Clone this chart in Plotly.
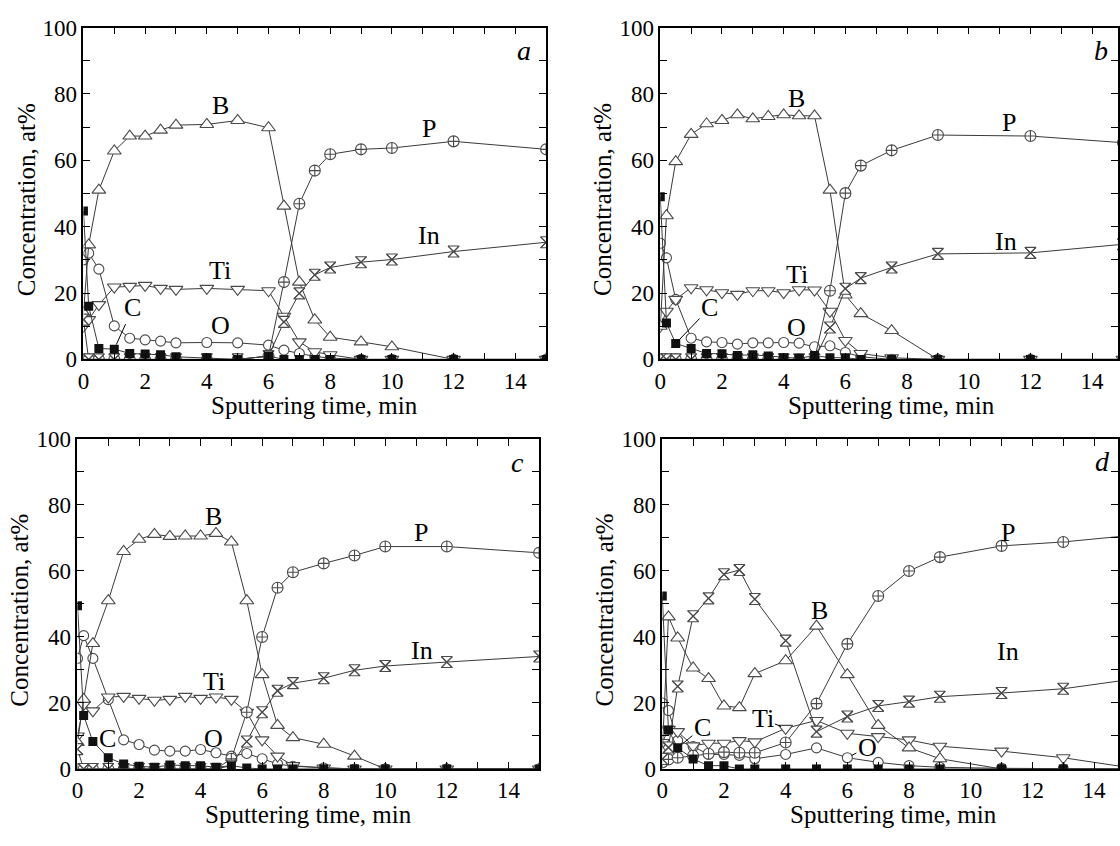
import plotly.graph_objects as go

# ---------------- panel a ----------------
t_a = [0, 0.17, 0.5, 1, 1.5, 2, 2.5, 3, 4, 5, 6, 6.5, 7, 7.5, 8, 9, 10, 12, 15]
B_a = [14, 34.5, 51, 62.8, 67.3, 67.3, 69.1, 70.6, 70.8, 72, 69.8, 46.2, 23.3, 11.9, 6.7, 5.3, 3.8, 0, 0]
Ti_a = [10, 12, 16.5, 21.8, 22, 22.3, 21.4, 21.1, 21.4, 21.1, 20.7, 13, 5.3, 2.3, 1.4, 0, 0, 0, 0]
O_a = [30, 32, 27.2, 10.1, 6.4, 5.9, 5.5, 5.0, 5.1, 5.0, 4.3, 2.8, 1.8, 0.9, 0.4, 0, 0, 0, 0]
C_a = [44.7, 16, 3.3, 3.1, 1.8, 1.6, 1.4, 0.8, 0.5, 0, 1.0, 0, 0, 0, 0, 0, 0, 0, 0]
P_a = [0, 0, 0, 0, 0, 0, 0, 0, 0, 0, 1, 23.3, 46.9, 56.9, 61.8, 63.3, 63.7, 65.7, 63.3]
In_a = [12, 0, 0, 0, 0, 0, 0, 0, 0, 0, 1, 11.3, 19.9, 25.5, 27.7, 29.3, 30.1, 32.5, 35.3]

# ---------------- panel b ----------------
t_b = [0, 0.2, 0.5, 1, 1.5, 2, 2.5, 3, 3.5, 4, 4.5, 5, 5.5, 6, 6.5, 7.5, 9, 12, 15]
B_b = [10, 43.3, 59.6, 67.8, 71, 72, 73.7, 72.5, 73.2, 73.7, 73.4, 73.4, 51, 19.4, 13.8, 8.7, 0, 0, 0]
Ti_b = [10, 14.5, 18.1, 21.6, 21, 20.1, 19.6, 20.7, 20.7, 20.1, 21, 20.9, 14.5, 5.7, 1.8, 0.5, 0, 0, 0]
O_b = [35, 30.6, 18.1, 6.4, 5.3, 5.1, 4.6, 5.0, 5.0, 5.1, 4.9, 3.8, 4.1, 2.1, 0.8, 0, 0, 0, 0]
C_b = [49, 11, 4.8, 3.3, 1.8, 1.7, 1.2, 1.4, 1.0, 0.5, 0.3, 1.2, 0.5, 0.5, 0, 0, 0, 0, 0]
P_b = [0, 0, 0, 0, 0, 0, 0, 0, 0, 0, 0, 0, 20.7, 50.1, 58.4, 63, 67.6, 67.3, 65.3]
In_b = [0, 0, 0, 0, 0, 0, 0, 0, 0, 0, 0, 0, 9.6, 21.3, 24.5, 27.7, 31.8, 32.1, 34.7]

# ---------------- panel c ----------------
t_c = [0, 0.2, 0.5, 1, 1.5, 2, 2.5, 3, 3.5, 4, 4.5, 5, 5.5, 6, 6.5, 7, 8, 9, 10, 12, 15]
B_c = [8, 21.1, 38, 51, 65.9, 69.6, 71.1, 70.5, 70.6, 70.6, 71.4, 68.8, 51, 28.6, 13.2, 9.5, 7.5, 3.9, 0, 0, 0]
Ti_c = [10, 19.5, 17.6, 21.8, 22, 21.4, 20.8, 21.1, 22, 21.4, 21.8, 21.1, 17.2, 8.8, 3.9, 1, 0.3, 0, 0, 0, 0]
O_c = [33.5, 40.4, 33.5, 21, 8.8, 7.4, 5.7, 5.4, 5.4, 5.9, 4.9, 3.9, 4.7, 3.1, 1.5, 0.8, 0.3, 0, 0, 0, 0]
C_c = [49.5, 16.2, 8.3, 3.4, 1.5, 0.8, 0.5, 1.2, 1, 1, 0.5, 1, 0.3, 0, 0, 0, 0, 0, 0, 0, 0]
P_c = [0, 0, 0, 0, 0, 0, 0, 0, 0, 0, 0, 3.1, 17.2, 40, 54.9, 59.6, 62.3, 64.7, 67.4, 67.4, 65.5]
In_c = [6, 0, 0, 0, 0, 0, 0, 0, 0, 0, 0, 1, 8.3, 17.2, 23.7, 26, 27.5, 29.9, 31.2, 32.4, 34.1]

# ---------------- panel d ----------------
t_d = [0, 0.2, 0.5, 1, 1.5, 2, 2.5, 3, 4, 5, 6, 7, 8, 9, 11, 13, 15]
B_d = [5, 46.1, 39.7, 30.6, 27.4, 19.1, 18.6, 28.9, 32.8, 43.3, 28.6, 13.2, 6.4, 3.1, 0, 0, 0]
In_d = [3, 6.5, 25, 46.3, 51.7, 59, 60.3, 51.5, 38.9, 11.3, 15.9, 19.1, 20.4, 21.9, 23, 24.3, 26.9]
P_d = [2, 2.9, 3.4, 4, 4.6, 5.1, 4.9, 4.9, 8, 19.8, 37.9, 52.4, 60, 64.2, 67.6, 68.8, 70.6]
Ti_d = [8, 12, 11.3, 7, 7.8, 7.8, 8.6, 8.2, 12.3, 14.7, 10.8, 9.8, 8.8, 6.9, 5.4, 3.4, 0.6]
O_d = [20, 17.7, 8.6, 6.8, 4.4, 4.4, 4.1, 3.1, 4.4, 6.4, 3.4, 2, 1, 0.5, 0.2, 0, 0]
C_d = [52.4, 11.8, 6.4, 3, 1, 1, 0, 0, 0, 0, 0, 0, 0, 0, 0, 0, 0]

x_ticks = list(range(0, 16))
x_text = [str(v) if v % 2 == 0 else "" for v in x_ticks]
y_ticks = list(range(0, 101, 10))
y_text = [str(v) if v % 20 == 0 else "" for v in y_ticks]

FONT = "Liberation Serif, Times New Roman, serif"
LINE = "#3a3a3a"
MK = "#4a4a4a"

fig = go.Figure()


def add_panel(ax, t, B, Ti, O, C, P, In):
    xa, ya = ("x", "y") if ax == 1 else (f"x{ax}", f"y{ax}")
    common = dict(xaxis=xa, yaxis=ya, showlegend=False, hoverinfo="skip")
    line = dict(color=LINE, width=1)

    def hollow(sym, size):
        # white-filled symbol with a grey outline
        return dict(symbol=sym, size=size, color="white",
                    line=dict(color=MK, width=1.1))

    fig.add_trace(go.Scatter(x=t, y=O, mode="lines+markers", line=line,
                             marker=hollow("circle", 10), **common))
    fig.add_trace(go.Scatter(x=t, y=Ti, mode="lines+markers", line=line,
                             marker=hollow("triangle-down", 12), **common))
    fig.add_trace(go.Scatter(x=t, y=B, mode="lines+markers", line=line,
                             marker=hollow("triangle-up", 12), **common))
    fig.add_trace(go.Scatter(x=t, y=P, mode="lines+markers", line=line,
                             marker=hollow("circle-cross", 11), **common))
    fig.add_trace(go.Scatter(x=t, y=In, mode="lines+markers", line=line,
                             marker=hollow("hourglass", 11), **common))
    fig.add_trace(go.Scatter(x=t, y=In, mode="markers",
                             marker=dict(symbol="x-thin-open", size=11, color=MK,
                                         line=dict(color=MK, width=1.1)),
                             **common))
    fig.add_trace(go.Scatter(x=t, y=C, mode="lines+markers", line=line,
                             marker=dict(symbol="square", size=9, color="#111111",
                                         line=dict(color="#111111", width=0)),
                             **common))


add_panel(1, t_a, B_a, Ti_a, O_a, C_a, P_a, In_a)
add_panel(2, t_b, B_b, Ti_b, O_b, C_b, P_b, In_b)
add_panel(3, t_c, B_c, Ti_c, O_c, C_c, P_c, In_c)
add_panel(4, t_d, B_d, Ti_d, O_d, C_d, P_d, In_d)

W, H = 1120, 846

axis_style = dict(
    showline=True, linewidth=1.6, linecolor="black", mirror="ticks",
    ticks="inside", ticklen=7, tickwidth=1, tickcolor="black",
    showgrid=False, zeroline=False,
    tickfont=dict(family=FONT, size=23, color="black"),
)

# plot-area boxes in pixels: (left, right), (top, bottom)
panels = {
    1: dict(x=(78, 544), y=(16, 358)),
    2: dict(x=(659, 1125), y=(16, 358)),
    3: dict(x=(72, 537), y=(440, 780)),
    4: dict(x=(661, 1127), y=(440, 780)),
}

annotations = []
layout_axes = {}
for k, p in panels.items():
    l, r = p["x"]
    top, bottom = p["y"]
    vis_r = min(r, W)
    xmax = 15 * (vis_r - l) / (r - l)
    sx = "xaxis" if k == 1 else f"xaxis{k}"
    sy = "yaxis" if k == 1 else f"yaxis{k}"
    anchor_y = "y" if k == 1 else f"y{k}"
    anchor_x = "x" if k == 1 else f"x{k}"
    layout_axes[sx] = dict(
        domain=[l / W, vis_r / W], range=[0, xmax], anchor=anchor_y,
        tickvals=x_ticks, ticktext=x_text, **axis_style)
    layout_axes[sy] = dict(
        domain=[1 - bottom / H, 1 - top / H], range=[0, 100], anchor=anchor_x,
        tickvals=y_ticks, ticktext=y_text, **axis_style)
    # axis titles
    annotations.append(dict(
        xref="paper", yref="paper", x=(l + r) / 2 / W, y=1 - (bottom + 47) / H,
        text="Sputtering time, min", showarrow=False,
        xanchor="center", yanchor="middle",
        font=dict(family=FONT, size=25, color="black")))
    annotations.append(dict(
        xref="paper", yref="paper", x=(l - 58) / W, y=1 - ((top + bottom) / 2 + 6) / H,
        text="Concentration, at%", showarrow=False, textangle=-90,
        xanchor="center", yanchor="middle",
        font=dict(family=FONT, size=25, color="black")))


def label(ax, x, y, text, italic=False, size=26):
    xa, ya = ("x", "y") if ax == 1 else (f"x{ax}", f"y{ax}")
    annotations.append(dict(
        xref=xa, yref=ya, x=x, y=y, text=f"<i>{text}</i>" if italic else text,
        showarrow=False,
        font=dict(family=FONT, size=size, color="black")))


def leader(ax, px, py, lx, ly, text):
    xa, ya = ("x", "y") if ax == 1 else (f"x{ax}", f"y{ax}")
    annotations.append(dict(
        xref=xa, yref=ya, x=px, y=py, axref=xa, ayref=ya, ax=lx, ay=ly,
        text=text, showarrow=True, arrowhead=0, arrowwidth=1,
        arrowcolor="black", standoff=5, startstandoff=0,
        font=dict(family=FONT, size=26, color="black")))


# panel a labels
label(1, 4.44, 76.4, "B")
label(1, 11.2, 69.6, "P")
label(1, 11.2, 37.2, "In")
label(1, 4.44, 26.7, "Ti")
label(1, 4.44, 10.1, "O")
leader(1, t_a[3], C_a[3], 1.6, 15.5, "C")
label(1, 14.28, 93, "a", italic=True, size=28)

# panel b labels
label(2, 4.43, 78.6, "B")
label(2, 11.29, 71.5, "P")
label(2, 11.2, 35.5, "In")
label(2, 4.43, 25.7, "Ti")
label(2, 4.43, 9.6, "O")
leader(2, t_b[2], C_b[2], 1.6, 15.5, "C")
label(2, 14.29, 93, "b", italic=True, size=28)

# panel c labels
label(3, 4.43, 76.5, "B")
label(3, 11.17, 71.6, "P")
label(3, 11.2, 35.8, "In")
label(3, 4.43, 26.5, "Ti")
label(3, 4.43, 9.3, "O")
label(3, 0.98, 9.3, "C")
label(3, 14.3, 93, "c", italic=True, size=28)

# panel d labels
label(4, 5.09, 48, "B")
label(4, 11.22, 71.6, "P")
label(4, 11.2, 35.5, "In")
leader(4, t_d[8], Ti_d[8], 3.25, 15.2, "Ti")
leader(4, t_d[10], O_d[10], 6.65, 6.6, "O")
leader(4, t_d[2], C_d[2], 1.3, 12.6, "C")
label(4, 14.28, 93.3, "d", italic=True, size=28)

fig.update_layout(
    width=W, height=H,
    margin=dict(l=0, r=0, t=0, b=0),
    paper_bgcolor="white", plot_bgcolor="white",
    annotations=annotations,
    font=dict(family=FONT, color="black"),
    **layout_axes,
)

fig.write_html("out.html")
